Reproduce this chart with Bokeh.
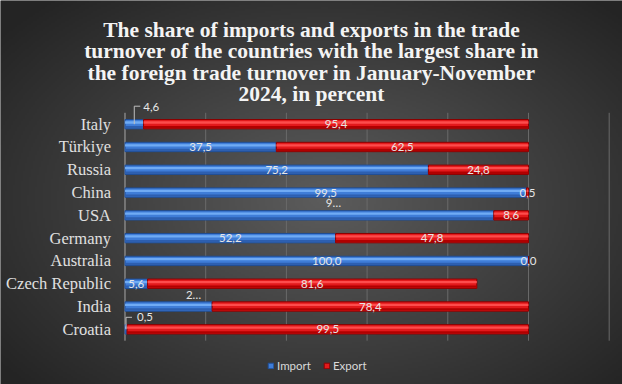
import numpy as np
from bokeh.plotting import figure
from bokeh.models import Range1d, ColumnDataSource, Legend, LegendItem, Label
from bokeh.core.properties import value
from bokeh.embed import file_html
from bokeh.resources import INLINE

# ---------------- data ----------------
COUNTRIES = ["Italy", "Türkiye", "Russia", "China", "USA", "Germany",
             "Australia", "Czech Republic", "India", "Croatia"]
IMPORT = [4.6, 37.5, 75.2, 99.5, 91.4, 52.2, 100.0, 5.6, 21.6, 0.5]
EXPORT = [95.4, 62.5, 24.8, 0.5, 8.6, 47.8, 0.0, 81.6, 78.4, 99.5]
GRID_TICKS = [0, 20, 40, 60, 80, 100, 120]
SERIES = ["Import", "Export"]
TITLE_LINES = ["The share of imports and exports in the trade",
               "turnover of the countries with the largest share in",
               "the foreign trade turnover in January-November",
               "2024, in percent"]
# labels Excel truncated in the original
TRUNCATED = {4: "9\u2026", 8: "2\u2026"}

# ---------------- layout ----------------
W, H = 622, 384
XR = (-30.855, 123.30)
YR = (-2.422, 14.428)
PXX = (XR[1] - XR[0]) / W   # data units per px (x)
PXY = (YR[1] - YR[0]) / H   # data units per px (y)

n = len(COUNTRIES)
ypos = list(range(n))[::-1]

def fmt(v):
    return f"{v:.1f}".replace(".", ",")

p = figure(width=W, height=H, x_range=Range1d(*XR), y_range=Range1d(*YR),
           output_backend="svg", toolbar_location=None, min_border=0,
           x_axis_type=None, y_axis_type=None)
p.grid.visible = False
p.outline_line_color = None
p.background_fill_color = "#3c3c3c"
p.border_fill_color = "#3c3c3c"

# background radial gradient (decoration)
gw, gh = 311, 192
gx = np.linspace(0, 1, gw)[None, :]
gy = np.linspace(0, 1, gh)[:, None]
d = np.sqrt(((gx - 0.52) / 0.55) ** 2 + ((gy - 0.48) / 0.58) ** 2)
c = np.clip(92 - 46 * d, 36, 255).astype(np.uint32)
img = (255 << 24) | (c << 16) | (c << 8) | c
p.image_rgba(image=[img.astype(np.uint32)], x=XR[0], y=YR[0],
             dw=XR[1] - XR[0], dh=YR[1] - YR[0])

# grid lines
grid_x = [t for t in GRID_TICKS if t > 0]
p.segment(x0=grid_x, x1=grid_x, y0=[-0.5] * len(grid_x), y1=[n - 0.5] * len(grid_x),
          line_color="#6a6a6a", line_width=1)
p.segment(x0=[GRID_TICKS[0]], x1=[GRID_TICKS[0]], y0=[-0.5], y1=[n - 0.5],
          line_color="#a8a8a8", line_width=1)

# bars
exp_left = IMPORT
exp_right = [a + b for a, b in zip(IMPORT, EXPORT)]
BH = 0.41
src = ColumnDataSource(dict(y=ypos, imp=IMPORT, expl=exp_left, expr=exp_right,
                            yh=[v + 0.075 for v in ypos], yl=[v - 0.13 for v in ypos]))

imp_r = p.hbar(y="y", left=0, right="imp", height=BH, source=src,
               fill_color="#3f7dd8", line_color="#1f4d94", line_width=1)
p.hbar(y="yh", left=0, right="imp", height=0.1, source=src,
       fill_color="#76b0f7", line_color=None, fill_alpha=0.9)
p.hbar(y="yl", left=0, right="imp", height=0.1, source=src,
       fill_color="#2d5fb0", line_color=None)

exp_r = p.hbar(y="y", left="expl", right="expr", height=BH, source=src,
               fill_color="#e3191b", line_color="#8a0000", line_width=1)
p.hbar(y="yh", left="expl", right="expr", height=0.1, source=src,
       fill_color="#ff5252", line_color=None, fill_alpha=0.9)
p.hbar(y="yl", left="expl", right="expr", height=0.1, source=src,
       fill_color="#b00000", line_color=None)

# country labels
p.text(x=[0] * n, y=ypos, text=COUNTRIES, x_offset=-14,
       text_align="right", text_baseline="middle",
       text_font=value("Liberation Serif"), text_font_size="16.5px",
       text_color="#e0e0e0")

# data labels
LBL = dict(text_font=value("Lato"), text_font_size="11.5px", text_color="#e6e6e6",
           text_baseline="middle")
# special import-label placements (px offsets)
LEADER = {0: (18, 9, -17), 9: (12, 11, -12)}      # idx: (rise, x_off, y_off)
SHIFT = {4: (24, -13), 8: (25, -12)}

ix, iy, it, ixo, iyo = [], [], [], [], []
lx, ly, lt, lxo, lyo = [], [], [], [], []
lead_xs, lead_ys = [], []
for i in range(n):
    xc = IMPORT[i] / 2
    txt = TRUNCATED.get(i, fmt(IMPORT[i]))
    if i in LEADER:
        rise, xo, yo = LEADER[i]
        lx.append(xc); ly.append(ypos[i]); lt.append(txt); lxo.append(xo); lyo.append(yo)
        top = ypos[i] + rise * PXY
        lead_xs.append([xc, xc, xc + 6 * PXX])
        lead_ys.append([ypos[i], top, top])
    else:
        xo, yo = SHIFT.get(i, (0, 0))
        ix.append(xc); iy.append(ypos[i]); it.append(txt); ixo.append(xo); iyo.append(yo)

p.multi_line(xs=lead_xs, ys=lead_ys, line_color="#bfbfbf", line_width=1)
p.text(x=ix, y=iy, text=it, x_offset=ixo, y_offset=iyo, text_align="center", **LBL)
p.text(x=lx, y=ly, text=lt, x_offset=lxo, y_offset=lyo, text_align="left", **LBL)

ex = [IMPORT[i] + EXPORT[i] / 2 for i in range(n)]
p.text(x=ex, y=ypos, text=[fmt(v) for v in EXPORT], text_align="center", **LBL)

# title
for k, line in enumerate(TITLE_LINES):
    p.add_layout(Label(x=W / 2, y=H - 29 - 21.5 * k, x_units="screen", y_units="screen",
                       text=line, text_align="center", text_baseline="alphabetic",
                       text_font="Liberation Serif", text_font_style="bold",
                       text_font_size="21.5px", text_color="#f4f4f4"))

# legend
legend = Legend(items=[LegendItem(label=SERIES[0], renderers=[imp_r]),
                       LegendItem(label=SERIES[1], renderers=[exp_r])],
                orientation="horizontal", location=(267, 12),
                background_fill_alpha=0, border_line_color=None,
                glyph_width=7, glyph_height=7, label_standoff=3, spacing=12,
                padding=0, margin=0, label_text_font="Lato",
                label_text_font_size="11.5px", label_text_color="#d9d9d9",
                label_height=14)
p.add_layout(legend)

open("out.html", "w").write(file_html(p, INLINE))
